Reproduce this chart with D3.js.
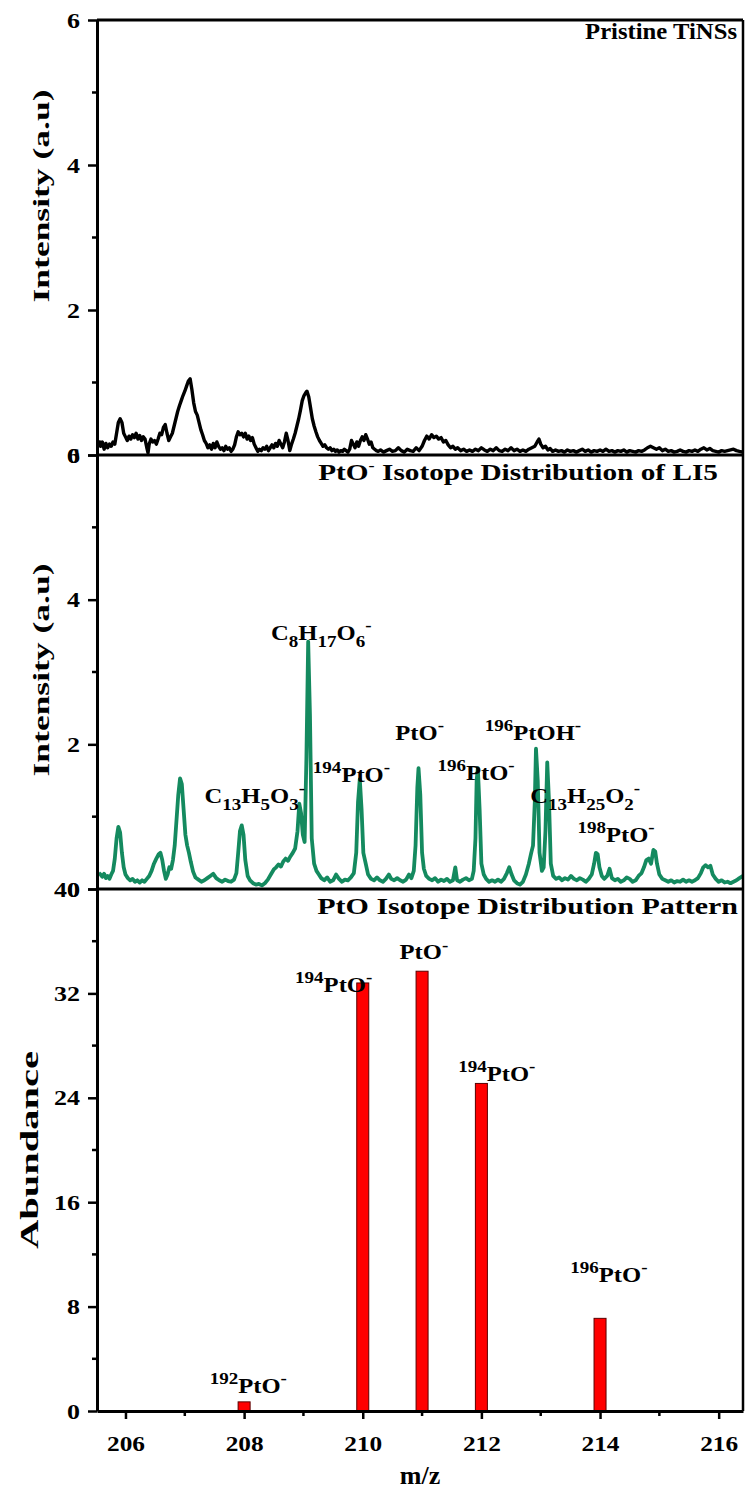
<!DOCTYPE html>
<html><head><meta charset="utf-8">
<script src="https://cdn.jsdelivr.net/npm/d3@7"></script>
<style>
body{margin:0;background:#fff}
svg{display:block}
text{font-family:"Liberation Serif","Times New Roman",serif;font-weight:bold;fill:#000}
</style>
</head><body>
<svg id="c" width="745" height="1494"></svg>
<script>
// ---------------- DATA ----------------
const xTicks = [206, 208, 210, 212, 214, 216];
const xMinorTicks = [207, 209, 211, 213, 215];
const intensityTicks = [0, 2, 4, 6];
const intensityMinor = [1, 3, 5];
const abundanceTicks = [0, 8, 16, 24, 32, 40];
const abundanceMinor = [4, 12, 20, 28, 36];

// Pristine TiNSs spectrum [m/z, intensity]
const pristine = [
[205.55,0.2],[205.58,0.12],[205.61,0.18],[205.64,0.08],[205.67,0.16],[205.70,0.1],[205.73,0.15],[205.76,0.12],[205.79,0.18],[205.82,0.15],
[205.85,0.3],[205.88,0.45],[205.91,0.5],[205.94,0.45],[205.97,0.3],[206.00,0.25],[206.03,0.2],[206.06,0.26],[206.09,0.22],[206.12,0.28],
[206.15,0.24],[206.18,0.3],[206.21,0.22],[206.24,0.27],[206.27,0.2],[206.30,0.25],[206.33,0.22],[206.36,0.1],[206.38,0.03],[206.40,0.15],
[206.43,0.22],[206.46,0.18],[206.49,0.2],[206.52,0.15],[206.55,0.22],[206.58,0.3],[206.61,0.28],[206.64,0.38],[206.67,0.42],[206.70,0.3],
[206.73,0.2],[206.76,0.25],[206.79,0.3],[206.82,0.4],[206.85,0.5],[206.88,0.6],[206.91,0.68],[206.94,0.75],[206.97,0.82],[207.00,0.88],
[207.03,0.95],[207.06,1.02],[207.09,1.05],[207.12,0.9],[207.15,0.72],[207.18,0.6],[207.21,0.55],[207.24,0.45],[207.27,0.35],[207.30,0.28],
[207.33,0.2],[207.36,0.16],[207.39,0.1],[207.42,0.14],[207.45,0.08],[207.48,0.16],[207.51,0.1],[207.54,0.18],[207.57,0.12],[207.60,0.08],
[207.63,0.1],[207.66,0.06],[207.69,0.12],[207.72,0.08],[207.75,0.1],[207.78,0.05],[207.81,0.08],[207.84,0.14],[207.87,0.25],[207.90,0.32],
[207.93,0.28],[207.96,0.3],[207.99,0.25],[208.02,0.3],[208.05,0.22],[208.08,0.26],[208.11,0.2],[208.14,0.24],[208.17,0.15],[208.20,0.1],
[208.23,0.05],[208.26,0.08],[208.29,0.06],[208.32,0.1],[208.35,0.08],[208.38,0.12],[208.41,0.06],[208.44,0.1],[208.47,0.14],[208.50,0.1],
[208.53,0.16],[208.56,0.12],[208.59,0.2],[208.62,0.15],[208.65,0.1],[208.68,0.18],[208.71,0.3],[208.74,0.2],[208.77,0.06],[208.80,0.15],
[208.83,0.22],[208.86,0.3],[208.89,0.4],[208.92,0.5],[208.95,0.62],[208.98,0.75],[209.01,0.82],[209.04,0.86],[209.06,0.88],[209.09,0.8],
[209.12,0.65],[209.15,0.5],[209.18,0.4],[209.21,0.32],[209.24,0.25],[209.27,0.2],[209.30,0.16],[209.33,0.12],[209.36,0.14],[209.39,0.1],
[209.42,0.08],[209.45,0.1],[209.48,0.06],[209.51,0.08],[209.54,0.05],[209.57,0.07],[209.60,0.04],[209.63,0.06],[209.66,0.05],[209.69,0.08],
[209.72,0.06],[209.75,0.04],[209.78,0.08],[209.81,0.2],[209.84,0.15],[209.87,0.1],[209.90,0.18],[209.93,0.12],[209.96,0.2],[209.99,0.25],
[210.02,0.2],[210.05,0.28],[210.08,0.22],[210.11,0.15],[210.14,0.18],[210.17,0.1],[210.20,0.08],[210.23,0.06],[210.26,0.05],[210.30,0.07],
[210.35,0.04],[210.40,0.06],[210.45,0.08],[210.50,0.05],[210.55,0.06],[210.60,0.1],[210.65,0.06],[210.70,0.04],[210.75,0.08],[210.80,0.06],
[210.85,0.05],[210.90,0.1],[210.95,0.06],[211.00,0.12],[211.04,0.2],[211.08,0.26],[211.12,0.22],[211.16,0.28],[211.20,0.24],[211.24,0.26],
[211.28,0.22],[211.32,0.24],[211.36,0.18],[211.40,0.2],[211.44,0.14],[211.48,0.1],[211.52,0.12],[211.56,0.08],[211.60,0.1],[211.65,0.06],
[211.70,0.08],[211.75,0.05],[211.80,0.07],[211.85,0.05],[211.90,0.08],[211.95,0.06],[212.00,0.1],[212.05,0.07],[212.10,0.05],[212.15,0.08],
[212.20,0.06],[212.25,0.1],[212.30,0.06],[212.35,0.05],[212.40,0.08],[212.45,0.06],[212.50,0.1],[212.55,0.06],[212.60,0.08],[212.65,0.05],
[212.70,0.07],[212.75,0.05],[212.80,0.08],[212.85,0.1],[212.90,0.12],[212.94,0.18],[212.97,0.22],[213.00,0.15],[213.04,0.1],[213.08,0.12],
[213.12,0.07],[213.16,0.09],[213.20,0.05],[213.25,0.07],[213.30,0.05],[213.35,0.06],[213.40,0.04],[213.45,0.07],[213.50,0.05],[213.55,0.06],
[213.60,0.04],[213.65,0.06],[213.70,0.08],[213.75,0.05],[213.80,0.07],[213.85,0.04],[213.90,0.06],[213.95,0.05],[214.00,0.07],[214.05,0.05],
[214.10,0.08],[214.15,0.05],[214.20,0.06],[214.25,0.04],[214.30,0.06],[214.35,0.05],[214.40,0.07],[214.45,0.04],[214.50,0.06],[214.55,0.05],
[214.60,0.04],[214.65,0.06],[214.70,0.05],[214.75,0.07],[214.80,0.1],[214.85,0.12],[214.90,0.1],[214.95,0.08],[215.00,0.1],[215.05,0.06],
[215.10,0.08],[215.15,0.05],[215.20,0.06],[215.25,0.04],[215.30,0.05],[215.35,0.07],[215.40,0.05],[215.45,0.04],[215.50,0.06],[215.55,0.05],
[215.60,0.07],[215.65,0.05],[215.70,0.08],[215.75,0.1],[215.80,0.07],[215.85,0.09],[215.90,0.06],[215.95,0.05],[216.00,0.04],[216.05,0.06],
[216.10,0.05],[216.15,0.06],[216.20,0.07],[216.25,0.08],[216.30,0.06],[216.35,0.05],[216.41,0.04]
];

// LI5 spectrum [m/z, intensity]
const li5 = [
[205.55,0.22],[205.58,0.2],[205.61,0.17],[205.64,0.21],[205.67,0.15],[205.70,0.18],[205.73,0.14],[205.76,0.2],[205.79,0.25],[205.82,0.42],
[205.85,0.7],[205.88,0.86],[205.91,0.78],[205.94,0.5],[205.97,0.3],[206.00,0.2],[206.04,0.15],[206.08,0.12],[206.12,0.14],[206.16,0.1],
[206.20,0.12],[206.24,0.09],[206.28,0.12],[206.32,0.1],[206.36,0.14],[206.40,0.18],[206.44,0.25],[206.48,0.35],[206.52,0.42],[206.56,0.48],
[206.59,0.5],[206.62,0.4],[206.65,0.25],[206.68,0.14],[206.71,0.2],[206.74,0.3],[206.77,0.28],[206.80,0.4],[206.83,0.6],[206.86,0.95],
[206.89,1.3],[206.92,1.53],[206.95,1.45],[206.98,1.1],[207.01,0.75],[207.04,0.6],[207.07,0.5],[207.10,0.38],[207.14,0.24],[207.18,0.16],
[207.23,0.13],[207.28,0.1],[207.33,0.12],[207.38,0.15],[207.43,0.18],[207.48,0.21],[207.53,0.15],[207.58,0.12],[207.63,0.1],[207.68,0.13],
[207.73,0.11],[207.78,0.1],[207.83,0.13],[207.87,0.22],[207.90,0.5],[207.93,0.8],[207.96,0.88],[207.99,0.75],[208.02,0.4],[208.06,0.18],
[208.10,0.12],[208.15,0.08],[208.20,0.06],[208.25,0.07],[208.30,0.05],[208.35,0.08],[208.40,0.13],[208.45,0.2],[208.50,0.27],[208.54,0.3],
[208.58,0.34],[208.62,0.31],[208.66,0.38],[208.70,0.42],[208.74,0.39],[208.78,0.45],[208.82,0.5],[208.86,0.56],[208.90,0.8],[208.93,1.18],
[208.96,1.05],[208.99,0.75],[209.02,0.65],[209.05,1.8],[209.08,3.42],[209.11,2.4],[209.14,0.7],[209.18,0.35],[209.22,0.25],[209.26,0.2],
[209.30,0.15],[209.35,0.12],[209.40,0.16],[209.45,0.1],[209.50,0.12],[209.55,0.2],[209.60,0.14],[209.65,0.1],[209.70,0.13],[209.75,0.12],
[209.80,0.16],[209.85,0.22],[209.89,0.5],[209.92,1.2],[209.95,1.52],[209.98,1.1],[210.01,0.5],[210.05,0.35],[210.09,0.2],[210.14,0.14],
[210.19,0.12],[210.24,0.16],[210.29,0.12],[210.34,0.1],[210.39,0.14],[210.44,0.2],[210.48,0.14],[210.53,0.12],[210.58,0.15],[210.63,0.12],
[210.68,0.1],[210.73,0.13],[210.78,0.2],[210.82,0.15],[210.86,0.25],[210.89,0.6],[210.92,1.4],[210.94,1.67],[210.97,1.3],[211.00,0.5],
[211.03,0.28],[211.07,0.18],[211.12,0.14],[211.17,0.12],[211.22,0.15],[211.27,0.1],[211.32,0.13],[211.37,0.11],[211.42,0.14],[211.47,0.1],
[211.52,0.12],[211.56,0.3],[211.59,0.12],[211.64,0.1],[211.69,0.13],[211.74,0.15],[211.79,0.12],[211.84,0.14],[211.87,0.25],[211.90,0.7],
[211.92,1.5],[211.94,1.67],[211.97,1.1],[212.00,0.35],[212.04,0.2],[212.08,0.14],[212.13,0.1],[212.18,0.12],[212.23,0.1],[212.28,0.13],
[212.33,0.1],[212.38,0.14],[212.43,0.22],[212.47,0.3],[212.51,0.2],[212.55,0.12],[212.60,0.08],[212.65,0.06],[212.70,0.1],[212.75,0.2],
[212.80,0.35],[212.84,0.5],[212.87,0.6],[212.90,1.2],[212.92,1.94],[212.95,1.5],[212.98,0.5],[213.02,0.25],[213.05,0.3],[213.08,0.8],
[213.11,1.75],[213.14,1.2],[213.17,0.35],[213.21,0.18],[213.26,0.14],[213.31,0.16],[213.36,0.12],[213.41,0.15],[213.46,0.13],[213.51,0.18],
[213.56,0.14],[213.61,0.12],[213.66,0.15],[213.71,0.13],[213.76,0.1],[213.81,0.14],[213.86,0.2],[213.90,0.35],[213.93,0.5],[213.96,0.48],
[213.99,0.3],[214.03,0.18],[214.07,0.14],[214.12,0.18],[214.16,0.28],[214.20,0.15],[214.25,0.12],[214.30,0.14],[214.35,0.1],[214.40,0.12],
[214.45,0.16],[214.50,0.14],[214.55,0.1],[214.60,0.12],[214.65,0.18],[214.70,0.22],[214.74,0.3],[214.78,0.4],[214.82,0.42],[214.86,0.35],
[214.90,0.54],[214.93,0.52],[214.96,0.35],[215.00,0.2],[215.05,0.14],[215.10,0.12],[215.15,0.1],[215.20,0.12],[215.25,0.09],[215.30,0.11],
[215.35,0.1],[215.40,0.13],[215.45,0.1],[215.50,0.12],[215.55,0.1],[215.60,0.12],[215.65,0.15],[215.70,0.22],[215.74,0.3],[215.78,0.33],
[215.82,0.3],[215.86,0.32],[215.90,0.2],[215.95,0.14],[216.00,0.1],[216.05,0.12],[216.10,0.09],[216.15,0.1],[216.20,0.08],[216.25,0.1],
[216.30,0.12],[216.35,0.15],[216.41,0.18]
];

// Theoretical PtO isotope pattern
const isoMz = [208, 210, 211, 212, 214];
const isoAbundance = [0.7, 32.8, 33.7, 25.1, 7.1];

// Titles / labels
const panelTitles = ["Pristine TiNSs", "PtO^{-} Isotope Distribution of LI5", "PtO Isotope Distribution Pattern"];
const li5Labels = [
  {t:"C_{13}H_{5}O_{3}^{-}", mz:208.18, v:1.19},
  {t:"C_{8}H_{17}O_{6}^{-}", mz:209.30, v:3.44},
  {t:"^{194}PtO^{-}", mz:209.81, v:1.48},
  {t:"PtO^{-}", mz:210.96, v:2.06},
  {t:"^{196}PtO^{-}", mz:211.91, v:1.51},
  {t:"^{196}PtOH^{-}", mz:212.87, v:2.06},
  {t:"C_{13}H_{25}O_{2}^{-}", mz:213.75, v:1.19},
  {t:"^{198}PtO^{-}", mz:214.27, v:0.65}
];
const isoLabels = [
  {t:"^{192}PtO^{-}", mz:208.07, v:1.38},
  {t:"^{194}PtO^{-}", mz:209.51, v:32.1},
  {t:"PtO^{-}", mz:211.03, v:34.6},
  {t:"^{194}PtO^{-}", mz:212.26, v:25.3},
  {t:"^{196}PtO^{-}", mz:214.15, v:9.9}
];

// ---------------- LAYOUT ----------------
const svg = d3.select("#c");
const L = 97, R = 743;
const P1 = {top:20, bottom:455}, P2 = {top:455, bottom:889}, P3 = {top:889, bottom:1411};
const FONT = '"Liberation Serif","Times New Roman",serif';
const STRETCH = 1.12;

const x = d3.scaleLinear().domain([205.52, 216.41]).range([L, R]);
const y1 = d3.scaleLinear().domain([0, 6]).range([P1.bottom, P1.top]);
const y2 = d3.scaleLinear().domain([0, 6]).range([P2.bottom, P2.top]);
const y3 = d3.scaleLinear().domain([0, 40]).range([P3.bottom, P3.top]);

// rich text (sub/superscripts)
function rich(sel, str, size, small) {
  const parts = str.match(/\^\{[^}]*\}|_\{[^}]*\}|[^^_]+/g);
  let cur = 0;
  parts.forEach(p => {
    let txt = p, off = 0, fs = size;
    if (p.startsWith("^{")) { txt = p.slice(2, -1); off = -size * 0.4; fs = small; }
    else if (p.startsWith("_{")) { txt = p.slice(2, -1); off = size * 0.3; fs = small; }
    sel.append("tspan").attr("dy", off - cur).attr("font-size", fs).text(txt);
    cur = off;
  });
}
function richAt(px, py, str, size, small, anchor, sx) {
  const g = svg.append("g");
  const el = g.append("text").attr("text-anchor", anchor);
  rich(el, str, size, small);
  g.attr("transform", `translate(${px},${py}) scale(${sx},1)`);
  return {g, el};
}

// data lines
const line1 = d3.line().x(d => x(d[0])).y(d => y1(d[1]));
const line2 = d3.line().x(d => x(d[0])).y(d => y2(d[1]));
svg.append("path").datum(pristine).attr("d", line1).attr("fill", "none")
  .attr("stroke", "#000").attr("stroke-width", 3.4).attr("stroke-linejoin", "round");
svg.append("path").datum(li5).attr("d", line2).attr("fill", "none")
  .attr("stroke", "#148a5f").attr("stroke-width", 3.8).attr("stroke-linejoin", "round");

// bars
const bw = 12;
svg.append("g").selectAll("rect").data(isoMz).join("rect")
  .attr("x", (d) => x(d) - bw / 2)
  .attr("y", (d, i) => y3(isoAbundance[i]))
  .attr("width", bw)
  .attr("height", (d, i) => y3(0) - y3(isoAbundance[i]))
  .attr("fill", "#ff0000").attr("stroke", "#5a0000").attr("stroke-width", 1);

// frame
const frame = svg.append("g").attr("stroke", "#000").attr("fill", "none");
frame.append("line").attr("x1", L).attr("x2", R).attr("y1", P1.top).attr("y2", P1.top).attr("stroke-width", 3);
frame.append("line").attr("x1", R).attr("x2", R).attr("y1", P1.top).attr("y2", P3.bottom).attr("stroke-width", 2.5);
[P1.bottom, P2.bottom].forEach(yy => frame.append("line").attr("x1", L).attr("x2", R).attr("y1", yy).attr("y2", yy).attr("stroke-width", 3));

function stretchTicks(g, f) {
  g.selectAll(".tick text").attr("font-size", 22).attr("font-family", FONT).attr("font-weight", "bold")
    .each(function () {
      const l = this.getComputedTextLength();
      d3.select(this).attr("textLength", l * f).attr("lengthAdjust", "spacingAndGlyphs");
    });
}

// y axes
function yAxis(scale, major, minor) {
  const g = svg.append("g").attr("transform", `translate(${L},0)`);
  g.call(d3.axisLeft(scale).tickValues(major).tickSize(9).tickSizeOuter(0).tickPadding(8).tickFormat(d3.format("d")));
  g.select(".domain").attr("stroke-width", 3);
  g.selectAll(".tick line").attr("stroke-width", 2.5);
  stretchTicks(g, 1.18);
  g.selectAll(".minor").data(minor).join("line").attr("class", "minor")
    .attr("x1", -5).attr("x2", 0).attr("y1", d => scale(d)).attr("y2", d => scale(d))
    .attr("stroke", "#000").attr("stroke-width", 2.5);
}
yAxis(y1, intensityTicks, intensityMinor);
yAxis(y2, intensityTicks, intensityMinor);
yAxis(y3, abundanceTicks, abundanceMinor);

// x axis
const gx = svg.append("g").attr("transform", `translate(0,${P3.bottom})`);
gx.call(d3.axisBottom(x).tickValues(xTicks).tickSize(8).tickSizeOuter(0).tickPadding(16).tickFormat(d3.format("d")));
gx.select(".domain").attr("stroke-width", 3);
gx.selectAll(".tick line").attr("stroke-width", 2.5);
stretchTicks(gx, 1.15);
gx.selectAll(".minor").data(xMinorTicks).join("line").attr("class", "minor")
  .attr("x1", d => x(d)).attr("x2", d => x(d)).attr("y1", 0).attr("y2", 5)
  .attr("stroke", "#000").attr("stroke-width", 2.5);

// axis titles
function vTitle(txt, cx, cy, size, len) {
  svg.append("text").attr("transform", `translate(${cx},${cy}) rotate(-90)`)
    .attr("text-anchor", "middle").attr("dy", "0.35em").attr("font-size", size)
    .attr("textLength", len).attr("lengthAdjust", "spacingAndGlyphs").text(txt);
}
vTitle("Intensity (a.u)", 41, 196, 24, 213);
vTitle("Intensity (a.u)", 41, 670, 24, 213);
vTitle("Abundance", 29, 1150, 26, 198);
svg.append("text").attr("x", 420).attr("y", 1484).attr("text-anchor", "middle").attr("font-size", 26).text("m/z");

// panel titles, fitted to their span
const tPos = [{x:737, y:39, w:152}, {x:718, y:480, w:400}, {x:738, y:914, w:421}];
panelTitles.forEach((t, i) => {
  const r = richAt(tPos[i].x, tPos[i].y, t, 24, 15, "end", 1);
  const w = r.el.node().getBBox().width;
  r.g.attr("transform", `translate(${tPos[i].x},${tPos[i].y}) scale(${tPos[i].w / w},1)`);
});

// annotations
function annotate(list, ys) {
  list.forEach(a => richAt(x(a.mz), ys(a.v), a.t, 22, 17, "middle", STRETCH));
}
annotate(li5Labels, y2);
annotate(isoLabels, y3);
</script>
</body></html>
